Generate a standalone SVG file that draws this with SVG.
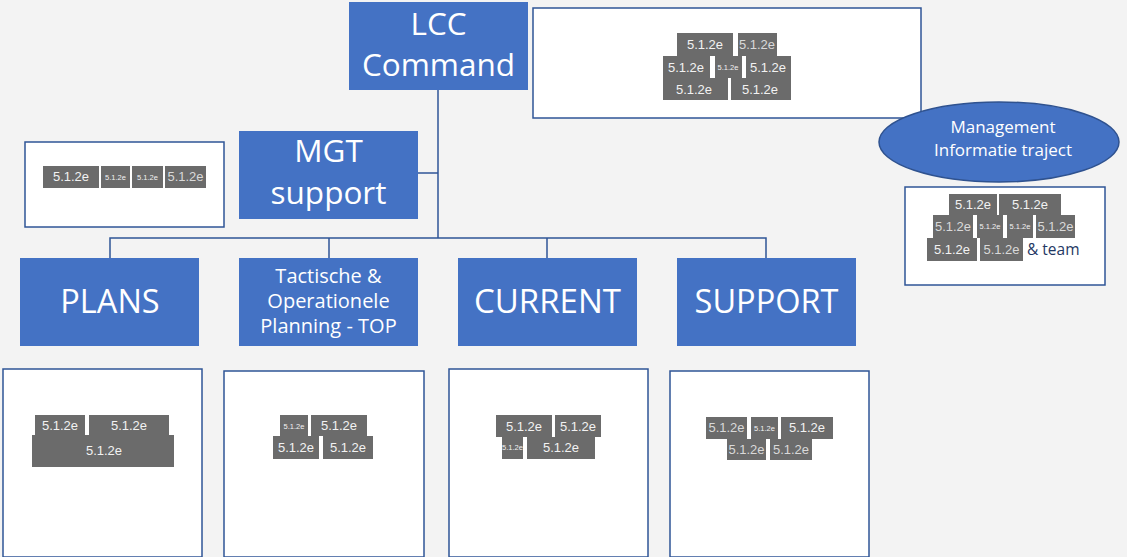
<svg xmlns="http://www.w3.org/2000/svg" width="1127" height="557" viewBox="0 0 1127 557">
<style>
.bg{fill:#F3F3F3}
.node rect.b{fill:#4472C4}
.t{fill:#FFFFFF;font-family:"Open Sans","Noto Sans",sans-serif;text-anchor:middle}
.box{fill:#FFFFFF;stroke:#2F5597;stroke-width:1.5}
.g{fill:#6B6B6B}
.r{fill:#F2F2F2;font-family:"Liberation Sans",Arial,sans-serif;font-size:13px;text-anchor:middle}
.s{fill:#F2F2F2;font-family:"Liberation Sans",Arial,sans-serif;font-size:7.5px;text-anchor:middle}
.l{fill:#D9D9D9}
.conn path{fill:none;stroke:#2F5597;stroke-width:1.5}
</style>
<rect class="bg" x="0" y="0" width="1127" height="557"/>
<g id="connectors" class="conn">
<path d="M438,90 V238"/>
<path d="M418,173 H438"/>
<path d="M110,258 V238 H766 V258"/>
<path d="M329,238 V258"/>
<path d="M547,238 V258"/>
</g>
<g id="lcc-command" class="node">
<rect class="b" x="349" y="2" width="179" height="88"/>
<text class="t" x="438.5" y="35" font-size="31.5">LCC</text>
<text class="t" x="438.5" y="76" font-size="31.5">Command</text>
</g>
<g id="lcc-names">
<rect class="box" x="533" y="8" width="388" height="110"/>
<rect class="g" x="677" y="33" width="56" height="23"/>
<rect class="g" x="738" y="33" width="39" height="23"/>
<rect class="g" x="663" y="56" width="47" height="22"/>
<rect class="g" x="715" y="56" width="27" height="22"/>
<rect class="g" x="746" y="56" width="45" height="22"/>
<rect class="g" x="663" y="78" width="65" height="22"/>
<rect class="g" x="731" y="78" width="60" height="22"/>
<text class="r" x="705" y="49">5.1.2e</text>
<text class="r l" x="757" y="49" font-size="12">5.1.2e</text>
<text class="r" x="686" y="72">5.1.2e</text>
<text class="s" x="728" y="70">5.1.2e</text>
<text class="r" x="768" y="72">5.1.2e</text>
<text class="r" x="694" y="94">5.1.2e</text>
<text class="r" x="760" y="94">5.1.2e</text>
</g>
<g id="mgt-support" class="node">
<rect class="b" x="239" y="131" width="179" height="88"/>
<text class="t" x="328.5" y="162" font-size="31.5">MGT</text>
<text class="t" x="328.5" y="204" font-size="31.5">support</text>
</g>
<g id="mgt-names">
<rect class="box" x="25" y="142" width="199" height="85"/>
<rect class="g" x="43" y="166" width="56" height="22"/>
<rect class="g" x="101" y="166" width="29" height="22"/>
<rect class="g" x="132" y="166" width="31" height="22"/>
<rect class="g" x="165" y="166" width="41" height="22"/>
<text class="r" x="71" y="181">5.1.2e</text>
<text class="s" x="115.5" y="180">5.1.2e</text>
<text class="s" x="147.5" y="180">5.1.2e</text>
<text class="r l" x="185.5" y="181">5.1.2e</text>
</g>
<g id="mi-traject" class="node">
<ellipse cx="999" cy="142" rx="120" ry="40" fill="#4472C4" stroke="#2F528F" stroke-width="1.5"/>
<text class="t" x="1003" y="133" font-size="17">Management</text>
<text class="t" x="1003" y="156" font-size="17">Informatie traject</text>
</g>
<g id="mi-names">
<rect class="box" x="905" y="187" width="200" height="98"/>
<rect class="g" x="949" y="194" width="48" height="21"/>
<rect class="g" x="999" y="194" width="62" height="21"/>
<rect class="g" x="933" y="215" width="40" height="23"/>
<rect class="g" x="977" y="215" width="26" height="23"/>
<rect class="g" x="1007" y="215" width="26" height="23"/>
<rect class="g" x="1036" y="215" width="39" height="23"/>
<rect class="g" x="927" y="238" width="50" height="23"/>
<rect class="g" x="980" y="238" width="43" height="23"/>
<text class="r" x="973" y="209">5.1.2e</text>
<text class="r" x="1030" y="209">5.1.2e</text>
<text class="r l" x="953" y="231">5.1.2e</text>
<text class="s" x="990" y="229">5.1.2e</text>
<text class="s" x="1020" y="229">5.1.2e</text>
<text class="r l" x="1055.5" y="231">5.1.2e</text>
<text class="r" x="952" y="254">5.1.2e</text>
<text class="r l" x="1001.5" y="254">5.1.2e</text>
<text x="1027" y="255" fill="#1F3864" font-family="'Open Sans','Noto Sans',sans-serif" font-size="15.5">&amp; team</text>
</g>
<g id="plans" class="node">
<rect class="b" x="20" y="258" width="179" height="88"/>
<text class="t" x="110" y="313" font-size="32.5">PLANS</text>
</g>
<g id="top" class="node">
<rect class="b" x="239" y="258" width="179" height="88"/>
<text class="t" x="328.5" y="283" font-size="20">Tactische &amp;</text>
<text class="t" x="328.5" y="308" font-size="20">Operationele</text>
<text class="t" x="328.5" y="333" font-size="20">Planning - TOP</text>
</g>
<g id="current" class="node">
<rect class="b" x="458" y="258" width="179" height="88"/>
<text class="t" x="547.5" y="313" font-size="33">CURRENT</text>
</g>
<g id="support" class="node">
<rect class="b" x="677" y="258" width="179" height="88"/>
<text class="t" x="766.5" y="313" font-size="32.5">SUPPORT</text>
</g>
<g id="plans-names">
<rect class="box" x="3" y="369" width="199" height="188"/>
<rect class="g" x="35" y="415" width="50" height="22"/>
<rect class="g" x="89" y="415" width="80" height="22"/>
<rect class="g" x="32" y="435" width="142" height="32"/>
<text class="r" x="60" y="430">5.1.2e</text>
<text class="r" x="129" y="430">5.1.2e</text>
<text class="r" x="104" y="455">5.1.2e</text>
</g>
<g id="top-names">
<rect class="box" x="224" y="371" width="200" height="186"/>
<rect class="g" x="280" y="415" width="28" height="21"/>
<rect class="g" x="311" y="415" width="56" height="21"/>
<rect class="g" x="273" y="436" width="46" height="23"/>
<rect class="g" x="323" y="436" width="50" height="23"/>
<text class="s" x="294" y="429">5.1.2e</text>
<text class="r" x="339" y="430">5.1.2e</text>
<text class="r" x="296" y="452">5.1.2e</text>
<text class="r" x="348" y="452">5.1.2e</text>
</g>
<g id="current-names">
<rect class="box" x="449" y="369" width="199" height="188"/>
<rect class="g" x="496" y="415" width="56" height="22"/>
<rect class="g" x="555" y="415" width="46" height="22"/>
<rect class="g" x="502" y="437" width="21" height="22"/>
<rect class="g" x="527" y="437" width="68" height="22"/>
<text class="r" x="524" y="431">5.1.2e</text>
<text class="r" x="578" y="431">5.1.2e</text>
<text class="s" x="512.5" y="450">5.1.2e</text>
<text class="r" x="561" y="452">5.1.2e</text>
</g>
<g id="support-names">
<rect class="box" x="670" y="371" width="199" height="186"/>
<rect class="g" x="706" y="417" width="41" height="22"/>
<rect class="g" x="751" y="417" width="27" height="22"/>
<rect class="g" x="781" y="417" width="52" height="22"/>
<rect class="g" x="727" y="439" width="39" height="21"/>
<rect class="g" x="770" y="439" width="42" height="21"/>
<text class="r l" x="726.5" y="432">5.1.2e</text>
<text class="s" x="764.5" y="431">5.1.2e</text>
<text class="r" x="807" y="432">5.1.2e</text>
<text class="r l" x="746.5" y="454">5.1.2e</text>
<text class="r l" x="791" y="454">5.1.2e</text>
</g>
</svg>
